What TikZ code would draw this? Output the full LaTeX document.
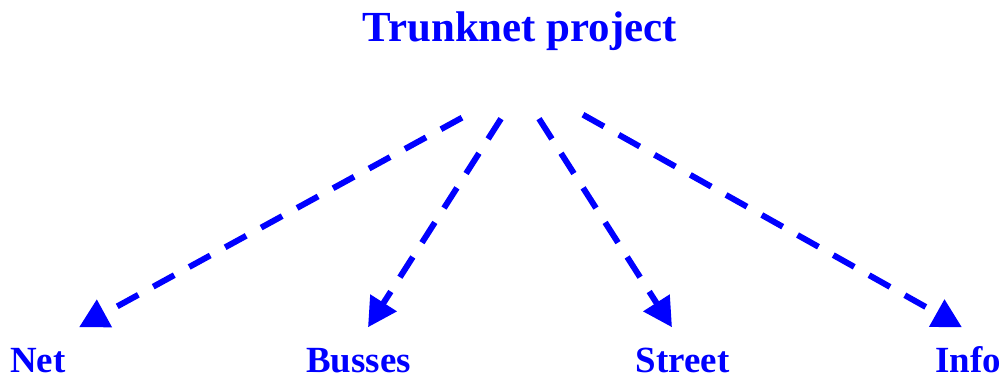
\documentclass[tikz,border=0pt]{standalone}
\usepackage{fontspec}
\setmainfont{Liberation Serif}
\usepackage{xcolor}
\usetikzlibrary{positioning, arrows.meta}
\definecolor{depblue}{HTML}{0000FF}

\begin{document}
\begin{tikzpicture}[
  font=\bfseries,
  >={Triangle[length=2.9mm, width=3.0mm]},
  arr/.style={->, depblue, line width=1.7pt, dash pattern=on 2.4mm off 1.7mm},
  ttl/.style={text=depblue, inner sep=0pt, anchor=base, text depth=0pt,
              font=\bfseries\fontsize{12.2}{14}\selectfont},
  lbl/.style={text=depblue, inner sep=0pt, anchor=base, text depth=0pt,
              text height=2.6mm, font=\bfseries\fontsize{10.5}{12}\selectfont},
]
\useasboundingbox (0,0) rectangle (10.04,-3.79);

%% ===== TOP: PROJECT =====
\node[ttl] (proj) at (5.20,-0.42) {Trunknet project};

%% ===== BOTTOM: PARTS =====
\node[lbl] (net)    at (0.38,-3.73)  {Net};
\node[lbl] (busses) at (3.585,-3.73) {Busses};
\node[lbl] (street) at (6.825,-3.73) {Street};
\node[lbl] (info)   at (9.68,-3.73)  {Info};

%% ===== ARROWS =====
\draw[arr] ([xshift=-5.8mm, yshift=-7.5mm]proj.south) -- ([xshift=4.1mm, yshift=1.9mm]net.north);
\draw[arr] ([xshift=-1.9mm, yshift=-7.6mm]proj.south) -- ([xshift=0.95mm, yshift=1.9mm]busses.north);
\draw[arr] ([xshift=1.9mm, yshift=-7.6mm]proj.south)  -- ([xshift=-1.05mm, yshift=1.9mm]street.north);
\draw[arr] ([xshift=6.3mm, yshift=-7.2mm]proj.south)  -- ([xshift=-0.6mm, yshift=1.9mm]info.north);

\end{tikzpicture}
\end{document}
